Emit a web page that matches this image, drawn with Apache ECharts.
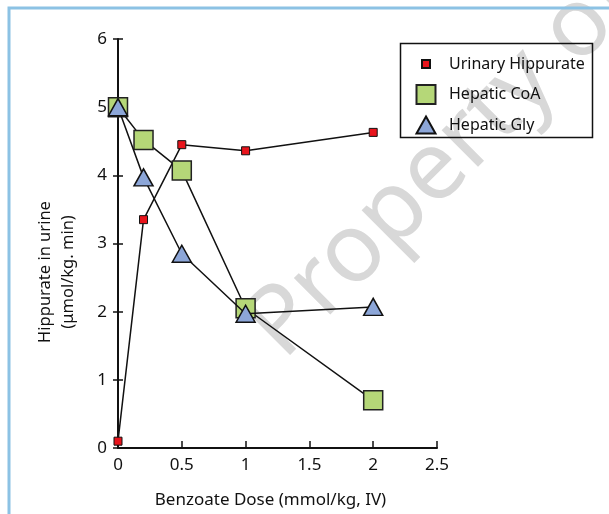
<!DOCTYPE html>
<html>
<head>
<meta charset="utf-8">
<script src="https://cdn.jsdelivr.net/npm/echarts@6/dist/echarts.min.js"></script>
<style>
  html, body { margin: 0; padding: 0; background: #fff; }
  #chart { width: 609px; height: 514px; }
</style>
</head>
<body>
<div id="chart"></div>
<script>
// doses (mmol/kg, IV)
const doses = [0, 0.2, 0.5, 1.0, 2.0];
const urinaryHippurate = [0.1, 3.35, 4.45, 4.36, 4.63];
const hepaticCoA = [5.0, 4.52, 4.07, 2.05, 0.7];
const hepaticGly = [5.0, 3.97, 2.85, 1.97, 2.07];
const seriesNames = ["Urinary Hippurate", "Hepatic CoA", "Hepatic Gly"];

const font = "Noto Sans";
const pairs = (ys) => doses.map((x, i) => [x, ys[i]]);

const chart = echarts.init(document.getElementById("chart"));

let option = {
  animation: false,
  backgroundColor: "#fff",
  textStyle: { fontFamily: font },
  grid: { left: 118, right: 172, top: 39, bottom: 66 },
  xAxis: {
    type: "value",
    min: 0,
    max: 2.5,
    interval: 0.5,
    name: "Benzoate Dose (mmol/kg, IV)",
    nameLocation: "middle",
    nameGap: 44,
    nameTextStyle: { fontFamily: font, fontSize: 17, color: "#111", padding: [0, 14, 0, 0] },
    axisLine: { lineStyle: { color: "#111", width: 2 } },
    axisTick: { inside: true, length: 7, lineStyle: { color: "#111", width: 1.5 } },
    axisLabel: { fontFamily: font, fontSize: 17, color: "#111", margin: 9 },
    splitLine: { show: false }
  },
  yAxis: [
    {
      type: "value",
      min: 0,
      max: 6,
      interval: 1,
      axisLine: { show: true, lineStyle: { color: "#111", width: 2 } },
      axisTick: { show: true, length: 5, lineStyle: { color: "#111", width: 1.5 } },
      axisLabel: { fontFamily: font, fontSize: 17, color: "#111", margin: 11 },
      splitLine: { show: false }
    },
    {
      // inner half of the crossing ticks
      type: "value",
      position: "left",
      min: 0,
      max: 6,
      interval: 1,
      axisLine: { show: false },
      axisTick: { show: true, inside: true, length: 5, lineStyle: { color: "#111", width: 1.5 } },
      axisLabel: { show: false },
      splitLine: { show: false }
    }
  ],
  legend: {
    orient: "vertical",
    left: 415,
    top: 53,
    padding: 0,
    itemWidth: 28,
    itemHeight: 20,
    itemGap: 8.5,
    textStyle: { fontFamily: font, fontSize: 16, color: "#111" },
    data: [
      { name: seriesNames[0], icon: "path://M0,0M28,20M6,6h8v8h-8z" },
      { name: seriesNames[1], icon: "path://M0,0M28,20M0.5,0.5h19v19h-19z" },
      { name: seriesNames[2], icon: "path://M0,0M28,20M10,1.5L19.5,18.5L0.5,18.5z" }
    ]
  },
  graphic: [
    // watermark
    {
      type: "text",
      z: -10,
      x: 298,
      y: 376,
      rotation: Math.PI / 4,
      style: {
        text: "Property of",
        fontFamily: font,
        fontSize: 96,
        fill: "#d8d8d8",
        textAlign: "left",
        textVerticalAlign: "bottom"
      }
    },
    // frame
    {
      type: "polyline",
      shape: { points: [[9, 520], [9, 8], [615, 8]] },
      style: { stroke: "#8cc2e4", lineWidth: 3, fill: null }
    },
    // legend box
    {
      type: "rect",
      shape: { x: 400.5, y: 43.5, width: 192, height: 94 },
      style: { stroke: "#111", lineWidth: 1.5, fill: null }
    },
    {
      type: "text",
      x: 57,
      y: 272,
      rotation: Math.PI / 2,
      style: {
        text: "Hippurate in urine\n(μmol/kg. min)",
        fontFamily: font,
        fontSize: 16.5,
        lineHeight: 23,
        fill: "#111",
        textAlign: "center",
        textVerticalAlign: "middle"
      }
    }
  ],
  series: [
    {
      name: seriesNames[0],
      type: "line",
      data: pairs(urinaryHippurate),
      clip: false,
      symbol: "rect",
      symbolSize: 8,
      lineStyle: { color: "#111", width: 1.5 },
      itemStyle: { color: "#e8141c", borderColor: "#111", borderWidth: 1 },
      z: 3
    },
    {
      name: seriesNames[1],
      type: "line",
      data: pairs(hepaticCoA),
      clip: false,
      symbol: "rect",
      symbolSize: 19,
      lineStyle: { color: "#111", width: 1.5 },
      itemStyle: { color: "#b5d778", borderColor: "#222", borderWidth: 1.5 },
      z: 4
    },
    {
      name: seriesNames[2],
      type: "line",
      data: pairs(hepaticGly),
      clip: false,
      symbol: "triangle",
      symbolSize: [19, 17],
      lineStyle: { color: "#111", width: 1.5 },
      itemStyle: { color: "#8ca6d8", borderColor: "#111", borderWidth: 1.5 },
      z: 5
    }
  ]
};

chart.setOption(option);
window.addEventListener("resize", function () {
  chart.resize();
});
</script>
</body>
</html>
